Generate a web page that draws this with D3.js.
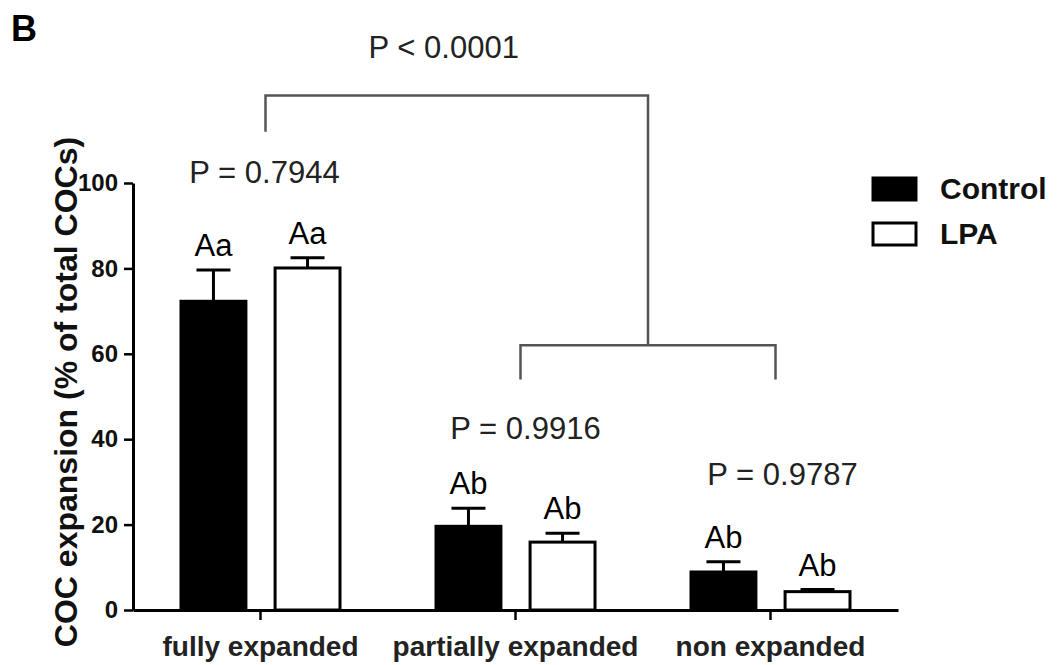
<!DOCTYPE html>
<html>
<head>
<meta charset="utf-8">
<script src="https://cdn.jsdelivr.net/npm/d3@7"></script>
<style>
  body { margin: 0; background: #fff; }
  svg { display: block; font-family: "Liberation Sans", Arial, sans-serif; }
</style>
</head>
<body>
<script>
const categories = ['fully expanded', 'partially expanded', 'non expanded'];
const groups = ['Control', 'LPA'];
const controlMean = [72.3, 19.6, 8.9];
const controlSem = [7.3, 4.2, 2.4];
const lpaMean = [80.1, 15.9, 4.3];
const lpaSem = [2.4, 2.1, 0.5];
const controlLetters = ['Aa', 'Ab', 'Ab'];
const lpaLetters = ['Aa', 'Ab', 'Ab'];
const yTicks = [0, 20, 40, 60, 80, 100];

// p value labels: category index, y level (data units)
const pLabels = [
  {text: 'P = 0.7944', cat: 0, dx: 4, level: 100},
  {text: 'P = 0.9916', cat: 1, dx: 10, level: 40},
  {text: 'P = 0.9787', cat: 2, dx: 12, level: 29.3}
];

const width = 1059;
const height = 665;

const svg = d3.select('body').append('svg')
    .attr('width', width)
    .attr('height', height);

const x = d3.scaleBand().domain(categories).range([133, 898]).padding(0);
const xInner = d3.scaleBand().domain(groups).range([-79.5, 79.5]).paddingInner(0.31);
const y = d3.scaleLinear().domain([0, 100]).range([610, 183]);

const rows = [];
categories.forEach((c, i) => {
  rows.push({cat: c, group: 'Control', mean: controlMean[i], sem: controlSem[i], letter: controlLetters[i]});
  rows.push({cat: c, group: 'LPA', mean: lpaMean[i], sem: lpaSem[i], letter: lpaLetters[i]});
});
const center = d => x(d.cat) + x.bandwidth() / 2;
const barX = d => center(d) + xInner(d.group);
const barMid = d => barX(d) + xInner.bandwidth() / 2;

// panel letter
svg.append('text')
    .attr('x', 11).attr('y', 41)
    .style('font-size', '36px').style('font-weight', 'bold')
    .text('B');

// error bars (upper only)
const err = svg.append('g').attr('stroke', '#000').attr('stroke-width', 3);
err.selectAll('line.stem').data(rows).enter().append('line')
    .attr('x1', barMid).attr('x2', barMid)
    .attr('y1', d => y(d.mean)).attr('y2', d => y(d.mean + d.sem));
err.selectAll('line.cap').data(rows).enter().append('line')
    .attr('x1', d => barMid(d) - 17).attr('x2', d => barMid(d) + 17)
    .attr('y1', d => y(d.mean + d.sem)).attr('y2', d => y(d.mean + d.sem));

// bars
svg.append('g').selectAll('rect').data(rows).enter().append('rect')
    .attr('x', barX)
    .attr('y', d => y(d.mean))
    .attr('width', xInner.bandwidth())
    .attr('height', d => y(0) - y(d.mean))
    .attr('fill', d => d.group === 'Control' ? '#000' : '#fff')
    .attr('stroke', '#000')
    .attr('stroke-width', 3);

// significance letters
svg.append('g').selectAll('text').data(rows).enter().append('text')
    .attr('x', barMid)
    .attr('y', d => y(d.mean + d.sem) - 14)
    .attr('text-anchor', 'middle')
    .style('font-size', '31px')
    .text(d => d.letter);

// axes
const yAxis = svg.append('g')
    .attr('transform', 'translate(133,0)')
    .call(d3.axisLeft(y).tickValues(yTicks).tickSize(9).tickPadding(6).tickSizeOuter(0));
yAxis.select('.domain').attr('stroke-width', 3);
yAxis.selectAll('.tick line').attr('stroke-width', 2.5);
yAxis.selectAll('.tick text')
    .style('font-size', '24px').style('font-weight', 'bold')
    .style('font-family', '"Liberation Sans", Arial, sans-serif')
    .attr('fill', '#111');

const xAxis = svg.append('g')
    .attr('transform', 'translate(0,610)')
    .call(d3.axisBottom(x).tickSize(10).tickPadding(16).tickSizeOuter(0));
xAxis.select('.domain').attr('stroke-width', 3);
xAxis.selectAll('.tick line').attr('stroke-width', 2.5);
xAxis.selectAll('.tick text')
    .style('font-size', '28px').style('font-weight', 'bold')
    .style('font-family', '"Liberation Sans", Arial, sans-serif')
    .attr('fill', '#222');

svg.append('text')
    .attr('transform', 'translate(77,392) rotate(-90)')
    .attr('text-anchor', 'middle')
    .style('font-size', '32px').style('font-weight', 'bold')
    .attr('fill', '#111')
    .text('COC expansion (% of total COCs)');

// p value labels
svg.append('g').selectAll('text').data(pLabels).enter().append('text')
    .attr('x', d => x(categories[d.cat]) + x.bandwidth() / 2 + d.dx)
    .attr('y', d => y(d.level))
    .attr('text-anchor', 'middle')
    .style('font-size', '31px')
    .attr('fill', '#222')
    .text(d => d.text);

// comparison brackets
const bx = i => x(categories[i]) + x.bandwidth() / 2 + 5;
const lowL = bx(1), lowR = bx(2), lowMid = (lowL + lowR) / 2;
const br = svg.append('g').attr('fill', 'none').attr('stroke', '#555').attr('stroke-width', 2.5);
br.append('path').attr('d', `M${lowL},${y(54)}V${y(62)}H${lowR}V${y(54)}`);
br.append('path').attr('d', `M${bx(0)},${y(112)}V${y(120.5)}H${lowMid}V${y(62)}`);
svg.append('text')
    .attr('x', (bx(0) + lowMid) / 2 - 13)
    .attr('y', y(129.3))
    .attr('text-anchor', 'middle')
    .style('font-size', '31px')
    .attr('fill', '#222')
    .text('P < 0.0001');

// legend
const legend = svg.append('g').attr('transform', 'translate(873,178)');
groups.forEach((g, i) => {
  legend.append('rect')
      .attr('x', 0).attr('y', i * 45)
      .attr('width', 43).attr('height', 22)
      .attr('fill', g === 'Control' ? '#000' : '#fff')
      .attr('stroke', '#000').attr('stroke-width', 3);
  legend.append('text')
      .attr('x', 67).attr('y', i * 45 + 21)
      .style('font-size', '30px').style('font-weight', 'bold')
      .attr('fill', '#111')
      .text(g);
});
</script>
</body>
</html>
